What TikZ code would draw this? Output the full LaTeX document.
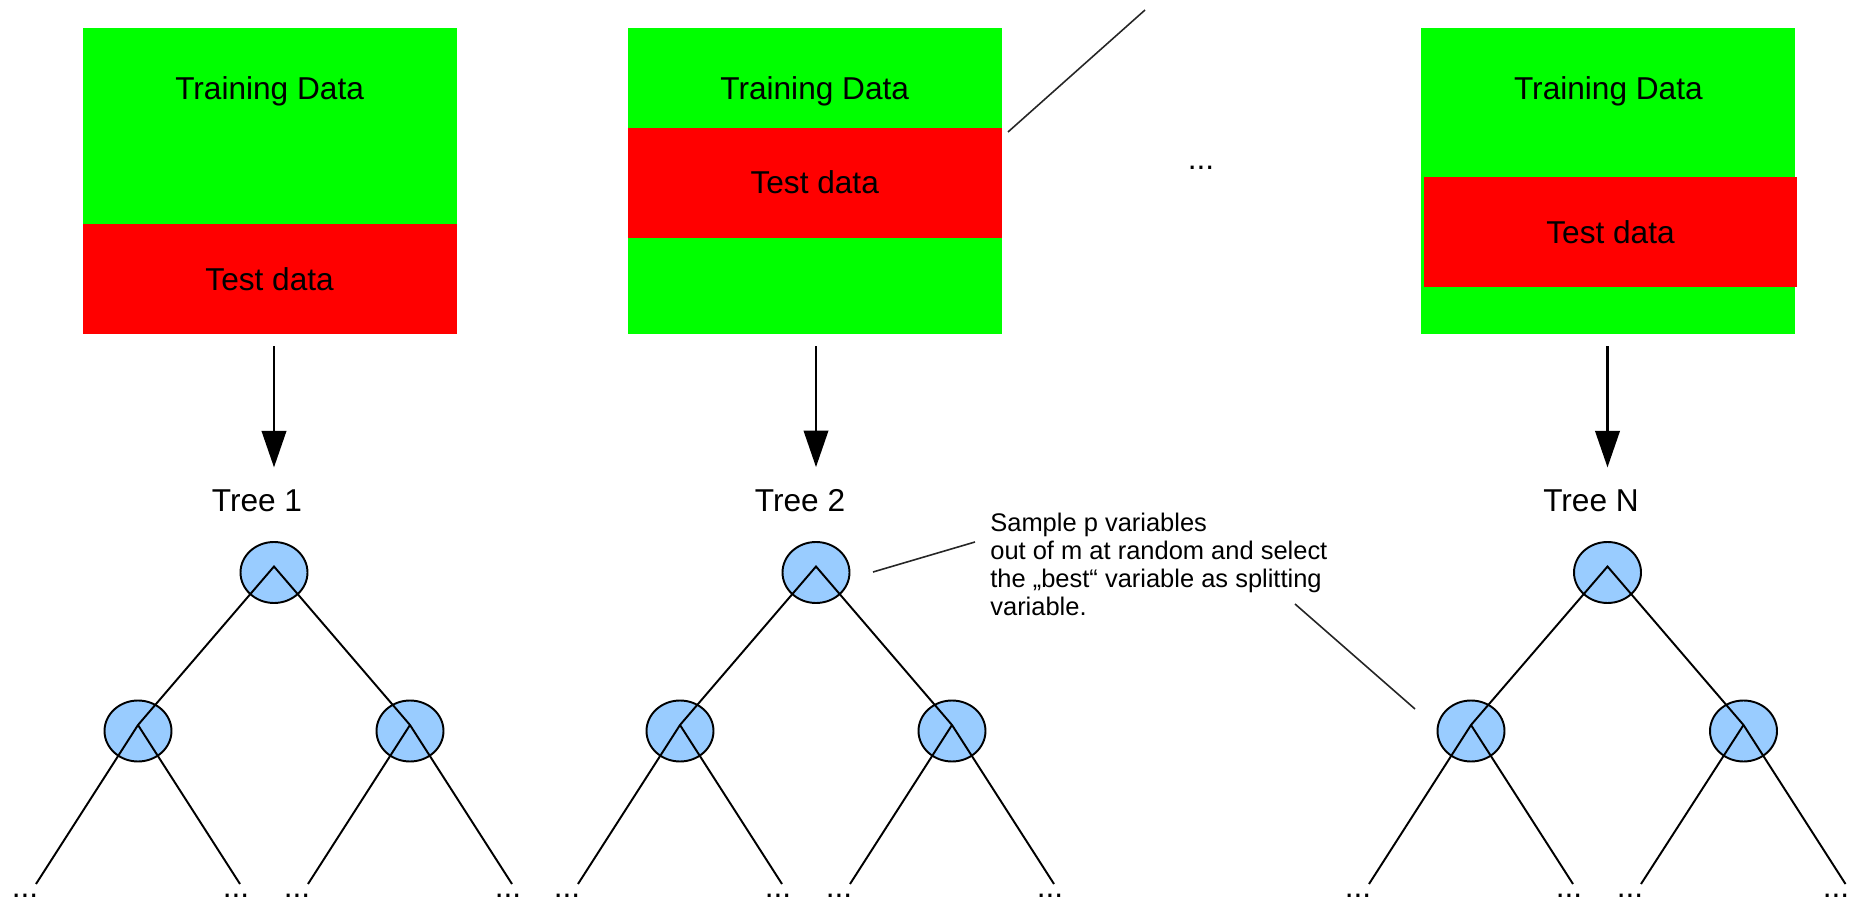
\documentclass[tikz,border=0pt]{standalone}
\usepackage{fontspec}
\setmainfont{Liberation Sans}
\usepackage{tikz}
\usepackage{xcolor}
\usetikzlibrary{positioning}
\usetikzlibrary{shapes.geometric,arrows.meta}

\definecolor{traingreen}{RGB}{0,255,0}
\definecolor{testred}{RGB}{255,0,0}
\definecolor{splitblue}{RGB}{153,204,255}

\begin{document}
\begin{tikzpicture}[x=0.02cm, y=-0.02cm,
    bigtext/.style={font=\fontsize{18pt}{21pt}\selectfont, inner sep=0pt},
    notetext/.style={font=\fontsize{14.5pt}{15.8pt}\selectfont, align=left, inner sep=0pt},
    databox/.style={fill=traingreen, minimum width=7.48cm, minimum height=6.12cm, inner sep=0pt},
    testbox/.style={bigtext, fill=testred, minimum width=7.48cm, minimum height=2.2cm},
    splitnode/.style={ellipse, draw, line width=1.1pt, fill=splitblue, minimum width=1.34cm, minimum height=1.22cm, inner sep=0pt},
    branch/.style={line width=1.1pt},
    callout/.style={line width=0.9pt, black!85},
    arr/.style={line width=1.3pt, -{Triangle[length=0.73cm,width=0.49cm]}, shorten <=0.24cm, shorten >=0.45cm},
    leafdots/.style={bigtext}]
    \useasboundingbox (0,0) rectangle (1850,901);

    % the three data sets
    \node[databox] (data1) at (269.6,181) {};
    \node[testbox] (test1) at (269.6,279) {Test data};
    \node[bigtext, anchor=base] (train1) at (269.6,99.5) {Training Data};

    \node[databox] (data2) at (814.7,181) {};
    \node[testbox] (test2) at (814.7,182.7) {Test data};
    \node[bigtext, anchor=base] (train2) at (814.7,99.5) {Training Data};

    \node[databox] (data3) at (1608.4,181) {};
    \node[testbox] (test3) at (1610.5,232) {Test data};
    \node[bigtext, anchor=base] (train3) at (1608.4,99.5) {Training Data};

    \node[bigtext] (more) at (1201,168) {...};

    % tree 1
    \node[splitnode] (t1r) at (274,572.5) {};
    \node[splitnode] (t1a) at (138,731) {};
    \node[splitnode] (t1b) at (410,731) {};
    \node[bigtext, anchor=base] (tree1) at (257,512) {Tree 1};
    \coordinate (t1a1) at (36,884);
    \coordinate (t1a2) at (240,884);
    \coordinate (t1b1) at (308,884);
    \coordinate (t1b2) at (512,884);
    \draw[branch] (t1a1) -- ([yshift=.12cm]t1a.center) -- ([yshift=.12cm]t1r.center) -- ([yshift=.12cm]t1b.center) -- (t1b2);
    \draw[branch] ([yshift=.12cm]t1a.center) -- (t1a2);
    \draw[branch] ([yshift=.12cm]t1b.center) -- (t1b1);
    \node[leafdots] (d1a1) at (25,896) {...};
    \node[leafdots] (d1a2) at (236,896) {...};
    \node[leafdots] (d1b1) at (297,896) {...};
    \node[leafdots] (d1b2) at (508,896) {...};
    \draw[arr] (t1r |- data1.south) -- (t1r |- tree1.north);

    % tree 2
    \node[splitnode] (t2r) at (816,572.5) {};
    \node[splitnode] (t2a) at (680,731) {};
    \node[splitnode] (t2b) at (952,731) {};
    \node[bigtext, anchor=base] (tree2) at (800,512) {Tree 2};
    \coordinate (t2a1) at (578,884);
    \coordinate (t2a2) at (782,884);
    \coordinate (t2b1) at (850,884);
    \coordinate (t2b2) at (1054,884);
    \draw[branch] (t2a1) -- ([yshift=.12cm]t2a.center) -- ([yshift=.12cm]t2r.center) -- ([yshift=.12cm]t2b.center) -- (t2b2);
    \draw[branch] ([yshift=.12cm]t2a.center) -- (t2a2);
    \draw[branch] ([yshift=.12cm]t2b.center) -- (t2b1);
    \node[leafdots] (d2a1) at (567,896) {...};
    \node[leafdots] (d2a2) at (778,896) {...};
    \node[leafdots] (d2b1) at (839,896) {...};
    \node[leafdots] (d2b2) at (1050,896) {...};
    \draw[arr] (t2r |- data2.south) -- (t2r |- tree2.north);

    % tree N
    \node[splitnode] (t3r) at (1607.5,572.5) {};
    \node[splitnode] (t3a) at (1471,731) {};
    \node[splitnode] (t3b) at (1743.5,731) {};
    \node[bigtext, anchor=base] (tree3) at (1591,512) {Tree N};
    \coordinate (t3a1) at (1369,884);
    \coordinate (t3a2) at (1573,884);
    \coordinate (t3b1) at (1641,884);
    \coordinate (t3b2) at (1845.5,884);
    \draw[branch] (t3a1) -- ([yshift=.12cm]t3a.center) -- ([yshift=.12cm]t3r.center) -- ([yshift=.12cm]t3b.center) -- (t3b2);
    \draw[branch] ([yshift=.12cm]t3a.center) -- (t3a2);
    \draw[branch] ([yshift=.12cm]t3b.center) -- (t3b1);
    \node[leafdots] (d3a1) at (1358,896) {...};
    \node[leafdots] (d3a2) at (1569,896) {...};
    \node[leafdots] (d3b1) at (1630,896) {...};
    \node[leafdots] (d3b2) at (1836,896) {...};
    \draw[arr] (t3r |- data3.south) -- (t3r |- tree3.north);

    % note on the split variables
    \node[notetext, anchor=north west] (note) at (990,513) {Sample p variables\\out of m at random and select\\the „best“ variable as splitting\\variable.};
    \coordinate (n1) at (873,572);
    \coordinate (n2) at (975,542);
    \coordinate (n3) at (1295,604);
    \coordinate (n4) at (1415,709);
    \coordinate (n5) at (1008,132);
    \coordinate (n6) at (1145,10);
    \draw[callout] (n1) -- (n2);
    \draw[callout] (n3) -- (n4);
    \draw[callout] (n5) -- (n6);
\end{tikzpicture}
\end{document}
